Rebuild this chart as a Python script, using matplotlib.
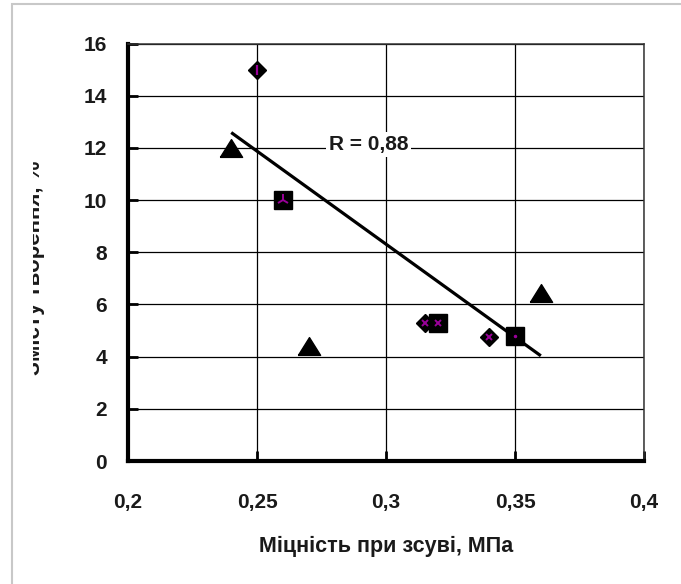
import matplotlib
matplotlib.use("Agg")
import matplotlib.pyplot as plt
from matplotlib.patches import Rectangle
from matplotlib.transforms import Bbox
from matplotlib.ticker import FuncFormatter
import numpy as np

plt.rcParams['font.family'] = ['Liberation Sans', 'DejaVu Sans']

# shear strength, MPa  /  content, %
diamond_x = [0.25, 0.315, 0.34]
diamond_y = [15.0, 5.3, 4.75]
square_x = [0.26, 0.32, 0.35]
square_y = [10.0, 5.3, 4.8]
triangle_x = [0.24, 0.27, 0.36]
triangle_y = [12.0, 4.4, 6.45]

trend_x = np.array([0.24, 0.36])
trend_slope = -71.3
trend_intercept = 29.7
r_text = "R = 0,88"

x_ticks = [0.2, 0.25, 0.3, 0.35, 0.4]
y_ticks = [0, 2, 4, 6, 8, 10, 12, 14, 16]

purple = '#990099'
fs = 15

fig = plt.figure(figsize=(6.81, 5.84), dpi=100)
ax = fig.add_axes([0.188, 0.2106, 0.7577, 0.7149])

ax.set_xlim(0.2, 0.4)
ax.set_ylim(0, 16)
ax.set_xticks(x_ticks)
ax.set_yticks(y_ticks)
ax.xaxis.set_major_formatter(FuncFormatter(lambda v, p: f"{v:g}".replace('.', ',')))
ax.grid(True, color='black', linewidth=0.9)
ax.set_axisbelow(True)

for side in ['left', 'bottom']:
    ax.spines[side].set_linewidth(3)
    ax.spines[side].set_color('black')
for side in ['top', 'right']:
    ax.spines[side].set_linewidth(1.1)
    ax.spines[side].set_color('#333333')

ax.tick_params(direction='in', length=7, width=2, colors='black', labelcolor='#1a1a1a',
               labelsize=fs)
ax.tick_params(axis='x', pad=23)
ax.tick_params(axis='y', pad=15)
for lab in ax.get_xticklabels() + ax.get_yticklabels():
    lab.set_fontweight('bold')

# trend line
ax.plot(trend_x, trend_slope * trend_x + trend_intercept, color='black', linewidth=2.3,
        solid_capstyle='butt', zorder=3)

# triangles (slightly flattened)
tri = [(-1.25, -1.0), (1.25, -1.0), (0.0, 1.0), (-1.25, -1.0)]
ax.plot(triangle_x, triangle_y, linestyle='none', marker=tri, markersize=16,
        color='black', zorder=4)

# diamonds with purple centre stroke
ax.plot(diamond_x, diamond_y, linestyle='none', marker='D', markersize=9.5,
        color='black', zorder=4)
ax.plot(diamond_x[:1], diamond_y[:1], linestyle='none', marker='|', markersize=7,
        markeredgewidth=1.6, color=purple, zorder=5)
ax.plot(diamond_x[1:], diamond_y[1:], linestyle='none', marker='x', markersize=5,
        markeredgewidth=1.4, color=purple, zorder=5)

# squares with purple inner mark
ax.plot(square_x, square_y, linestyle='none', marker='s', markersize=13.5,
        color='black', zorder=4)
ax.plot(square_x[:1], square_y[:1], linestyle='none', marker='2', markersize=9,
        markeredgewidth=1.4, color=purple, zorder=5)
ax.plot(square_x[1:2], square_y[1:2], linestyle='none', marker='x', markersize=5,
        markeredgewidth=1.4, color=purple, zorder=5)
ax.plot(square_x[2:], square_y[2:], linestyle='none', marker='.', markersize=3,
        color=purple, zorder=5)

ax.text(0.2932, 12.12, r_text, ha='center', va='center', fontsize=fs, fontweight='bold',
        color='#1a1a1a', zorder=6,
        bbox=dict(boxstyle='square,pad=0.15', facecolor='white', edgecolor='none'))

fig.text(0.5665, (584 - 546) / 584, "Міцність при зсуві, МПа",
         ha='center', va='center', fontsize=fs + 0.5, fontweight='bold', color='#1a1a1a')

ylab = fig.text(34 / 681, (584 - 268) / 584, "Змісту творення, %", rotation=90,
                ha='center', va='center', fontsize=16, fontweight='bold', color='#1a1a1a')
ylab.set_clip_box(Bbox([[33, 0], [681, 584]]))
ylab.set_clip_on(True)

# outer frame
fig.add_artist(Rectangle((12 / 681, -0.1), 1.2, 0.1 + 580 / 584, transform=fig.transFigure,
                         fill=False, edgecolor='#c8c8c8', linewidth=1.5))

fig.savefig('out.png', dpi=100)
